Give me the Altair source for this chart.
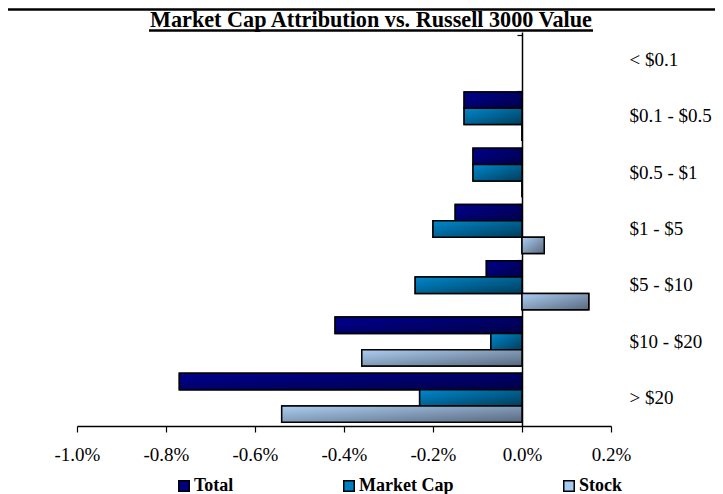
import altair as alt
import pandas as pd

# ---- data ----
cats = ["< $0.1", "$0.1 - $0.5", "$0.5 - $1", "$1 - $5", "$5 - $10", "$10 - $20", "> $20"]
series = ["Total", "Market Cap", "Stock"]
total = [None, -0.13, -0.11, -0.15, -0.08, -0.42, -0.77]
mcap = [None, -0.13, -0.11, -0.20, -0.24, -0.07, -0.23]
stock = [None, 0.0, 0.0, 0.05, 0.15, -0.36, -0.54]
x_ticks = [-1.0, -0.8, -0.6, -0.4, -0.2, 0.0, 0.2]
TITLE = "Market Cap Attribution vs. Russell 3000 Value"

rows = []
for s, vals in zip(series, [total, mcap, stock]):
    for c, v in zip(cats, vals):
        rows.append({"cat": c, "series": s, "value": v})
df = pd.DataFrame(rows)

FONT = "Liberation Serif"
solid = ["#000080", "#0080C0", "#A6CAF0"]
grad = {
    "Total": ("#00008E", "#000048"),
    "Market Cap": ("#0088CC", "#003D5C"),
    "Stock": ("#ACCEF2", "#58687D"),
}

W, H = 534, 394

x_enc = alt.X(
    "value:Q",
    scale=alt.Scale(domain=[-1.0, 0.2], nice=False, zero=False),
    axis=alt.Axis(
        values=x_ticks,
        labelExpr="(datum.value < -0.00001 ? '-' : '') + format(abs(datum.value), '.1f') + '%'",
        title=None, grid=False, labelFlush=False,
        domainColor="black", domainWidth=1.5,
        tickColor="black", tickSize=6, tickWidth=1.2,
        labelFont=FONT, labelFontSize=19, labelColor="black", labelPadding=13,
    ),
)
y_scale = alt.Scale(domain=cats, paddingInner=0.13, paddingOuter=0.065)
y_right = alt.Y(
    "cat:N", scale=y_scale, sort=cats,
    axis=alt.Axis(
        orient="right", domain=False, ticks=False, grid=False, title=None,
        labelAlign="left", labelBaseline="middle", labelPadding=18,
        labelFont=FONT, labelFontSize=19, labelColor="black",
    ),
)
y_none = alt.Y("cat:N", scale=y_scale, sort=cats, axis=None)
yoff = alt.YOffset("series:N", scale=alt.Scale(domain=series, paddingInner=0, paddingOuter=0))

base = alt.Chart(df).mark_bar(stroke="black", strokeWidth=1.5).encode(
    x=x_enc,
    y=y_right,
    yOffset=yoff,
    color=alt.Color(
        "series:N",
        scale=alt.Scale(domain=series, range=solid),
        legend=alt.Legend(
            title=None, orient="none", direction="horizontal",
            legendX=98, legendY=445,
            symbolType="square", symbolSize=110,
            symbolStrokeColor="black", symbolStrokeWidth=1.5,
            labelFont=FONT, labelFontSize=18, labelFontWeight="bold", labelColor="black",
            labelOffset=1, columnPadding=106, padding=0,
        ),
    ),
)

overlays = []
for s in series:
    c0, c1 = grad[s]
    overlays.append(
        alt.Chart(df).transform_filter(alt.datum.series == s).mark_bar(
            fill=alt.Gradient(
                gradient="linear",
                stops=[alt.GradientStop(color=c0, offset=0), alt.GradientStop(color=c1, offset=1)],
                x1=0, y1=0, x2=1, y2=1,
            ),
            stroke="black", strokeWidth=1.5,
        ).encode(x=x_enc, y=y_none, yOffset=yoff)
    )

zero_axis = alt.Chart(df).mark_point(opacity=0).encode(
    y=alt.Y(
        "cat:N", scale=y_scale, sort=cats,
        axis=alt.Axis(
            orient="left", offset=-445, labels=False, title=None, grid=False,
            domain=True, domainColor="black", domainWidth=1.5,
            ticks=True, tickColor="black", tickSize=5, tickWidth=1.2, bandPosition=0,
        ),
    ),
)

title = alt.Chart(pd.DataFrame({"t": [TITLE]})).mark_text(
    font=FONT, fontSize=22.2, fontWeight="bold", color="black",
    align="center", baseline="alphabetic",
).encode(text="t:N", x=alt.value(294), y=alt.value(-5.5))

border = alt.Chart(pd.DataFrame({"a": [0]})).mark_rule(color="black", strokeWidth=2.5).encode(
    x=alt.value(-69), x2=alt.value(W + 110), y=alt.value(-22.5)
)
underline = alt.Chart(pd.DataFrame({"a": [0]})).mark_rule(color="black", strokeWidth=2.5).encode(
    x=alt.value(72), x2=alt.value(516), y=alt.value(-1.5)
)

chart = alt.layer(base, *overlays, zero_axis, title, border, underline).resolve_axis(
    y="independent"
).properties(
    width=W, height=H,
    autosize=alt.AutoSizeParams(type="none"),
    padding={"left": 69, "top": 24, "right": 104, "bottom": 76},
).configure_view(stroke=None)

chart.save("out.html", embed_options={"renderer": "svg", "actions": False})
